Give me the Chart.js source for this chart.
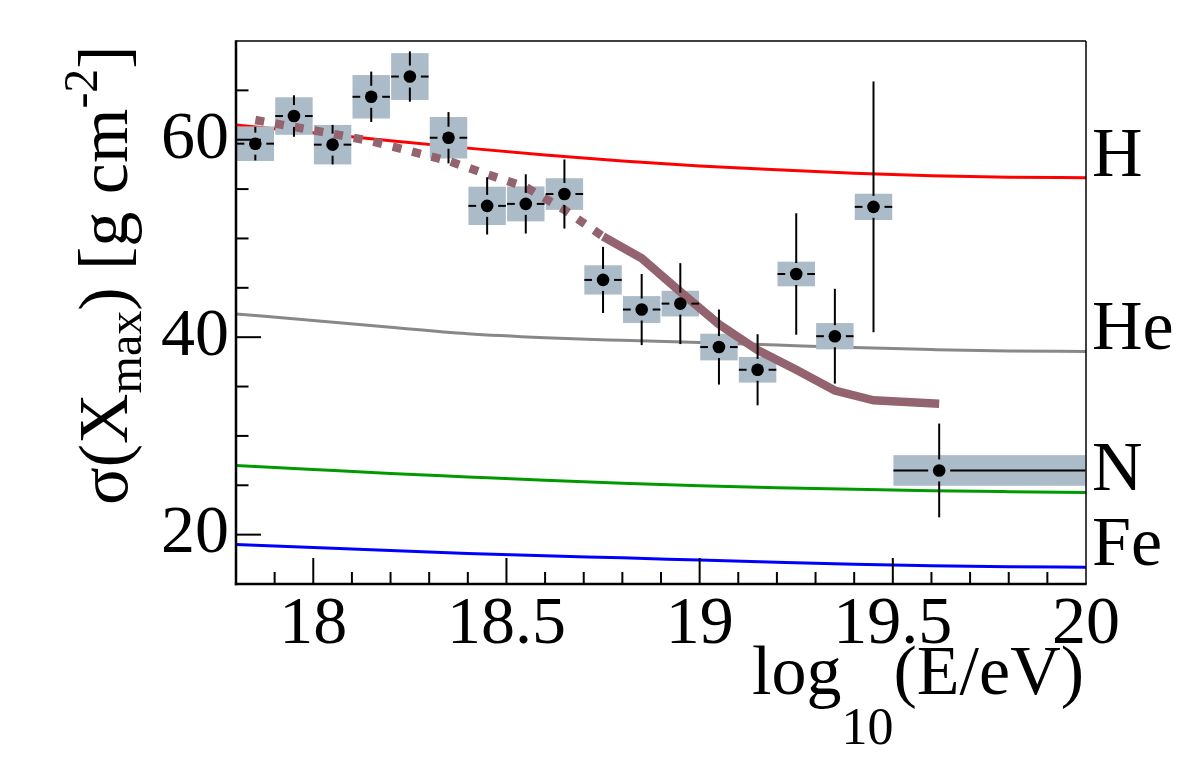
<!DOCTYPE html>
<html><head><meta charset="utf-8">
<script src="https://cdn.jsdelivr.net/npm/chart.js@4/dist/chart.umd.min.js"></script>
<style>html,body{margin:0;padding:0;background:#fff;}canvas{display:block;}</style>
</head><body>
<canvas id="c" width="1182" height="759"></canvas>
<script>
// ---- data ----
const binCenters = [17.85, 17.95, 18.05, 18.15, 18.25, 18.35, 18.45, 18.55, 18.65, 18.75, 18.85, 18.95, 19.05, 19.15, 19.25, 19.35, 19.45, 19.62];
const binLow     = [17.8, 17.9, 18.0, 18.1, 18.2, 18.3, 18.4, 18.5, 18.6, 18.7, 18.8, 18.9, 19.0, 19.1, 19.2, 19.3, 19.4, 19.5];
const binHigh    = [17.9, 18.0, 18.1, 18.2, 18.3, 18.4, 18.5, 18.6, 18.7, 18.8, 18.9, 19.0, 19.1, 19.2, 19.3, 19.4, 19.5, 20.0];
const sigmaXmax  = [59.6, 62.4, 59.5, 64.35, 66.4, 60.2, 53.3, 53.5, 54.5, 45.8, 42.8, 43.4, 39.0, 36.7, 46.4, 40.1, 53.2, 26.5];
const statErr    = [1.7, 2.1, 2.0, 2.55, 2.55, 2.6, 2.9, 3.0, 3.5, 3.35, 3.6, 4.1, 3.8, 3.6, 6.15, 4.8, 12.7, 4.75];
const sysErr     = [1.75, 1.9, 2.0, 2.2, 2.37, 2.1, 1.94, 1.77, 1.6, 1.48, 1.36, 1.3, 1.35, 1.3, 1.25, 1.33, 1.33, 1.55];

const compX  = [17.8, 18.0, 18.2, 18.4, 18.6, 18.8, 19.0, 19.2, 19.4, 19.6, 19.8, 20.0];
const compH  = [61.5, 60.7, 59.9, 59.15, 58.45, 57.85, 57.35, 56.95, 56.6, 56.35, 56.2, 56.15];
const compHe = [42.36, 41.7, 41.0, 40.35, 39.95, 39.68, 39.45, 39.2, 38.95, 38.75, 38.6, 38.56];
const compN  = [27.0, 26.6, 26.2, 25.85, 25.5, 25.2, 24.95, 24.75, 24.6, 24.45, 24.35, 24.27];
const compFe = [19.0, 18.7, 18.4, 18.1, 17.85, 17.65, 17.42, 17.2, 17.0, 16.85, 16.75, 16.7];
const compLabels = ['H', 'He', 'N', 'Fe'];

const modelDottedX = [17.85, 17.95, 18.05, 18.15, 18.25, 18.35, 18.45, 18.55, 18.65, 18.75];
const modelDottedY = [62.0, 61.3, 60.6, 59.85, 58.85, 57.85, 56.5, 55.2, 52.9, 50.2];
const modelSolidX  = [18.75, 18.85, 18.95, 19.05, 19.15, 19.25, 19.35, 19.45, 19.62];
const modelSolidY  = [50.2, 48.0, 44.6, 41.3, 38.7, 36.7, 34.6, 33.6, 33.25];

const xTickValues = [18, 18.5, 19, 19.5, 20];
const xTickLabels = ['18', '18.5', '19', '19.5', '20'];
const yTickValues = [20, 40, 60];
const yTickLabels = ['20', '40', '60'];

// ---- styling ----
const SERIF = '"Liberation Serif", "DejaVu Serif", serif';
const BOX_COLOR = '#abbbc8';
const MODEL_COLOR = '#93646f';
const compColors = ['#ff0000', '#888888', '#009a00', '#0000ff'];

function pts(xs, ys) { return xs.map((x, i) => ({ x: x, y: ys[i] })); }

const compSeries = [compH, compHe, compN, compFe];
const datasets = compSeries.map((s, i) => ({
  role: 'comp', label: compLabels[i], data: pts(compX, s),
  showLine: true, borderColor: compColors[i], borderWidth: 3, pointRadius: 0,
  cubicInterpolationMode: 'monotone', order: 3
}));
datasets.push({
  role: 'model', label: 'model (extrapolated)', data: pts(modelDottedX, modelDottedY),
  showLine: true, borderColor: MODEL_COLOR, borderWidth: 8.5, borderDash: [9, 11],
  borderCapStyle: 'butt', pointRadius: 0, tension: 0, order: 2
});
datasets.push({
  role: 'model', label: 'model', data: pts(modelSolidX, modelSolidY),
  showLine: true, borderColor: MODEL_COLOR, borderWidth: 8.5,
  borderCapStyle: 'butt', pointRadius: 0, tension: 0, order: 2
});
datasets.push({
  role: 'data', label: 'data', data: pts(binCenters, sigmaXmax),
  showLine: false, pointRadius: 6.3, pointBackgroundColor: '#000', pointBorderColor: '#000',
  pointBorderWidth: 0, order: 1
});

function drawBoxes(chart) {
  const ctx = chart.ctx, xs = chart.scales.x, ys = chart.scales.y;
  ctx.save();
  ctx.fillStyle = BOX_COLOR;
  for (let i = 0; i < binCenters.length; i++) {
    const x0 = xs.getPixelForValue(binLow[i]), x1 = xs.getPixelForValue(binHigh[i]);
    const y0 = ys.getPixelForValue(sigmaXmax[i] + sysErr[i]), y1 = ys.getPixelForValue(sigmaXmax[i] - sysErr[i]);
    ctx.fillRect(x0 + 0.6, y0, x1 - x0 - 1.2, y1 - y0);
  }
  ctx.restore();
}

function line(ctx, a, b, c, d) { ctx.beginPath(); ctx.moveTo(a, b); ctx.lineTo(c, d); ctx.stroke(); }

function drawErrors(chart) {
  const ctx = chart.ctx, xs = chart.scales.x, ys = chart.scales.y;
  const gap = 11;
  ctx.save();
  ctx.strokeStyle = '#000'; ctx.lineWidth = 2;
  for (let i = 0; i < binCenters.length; i++) {
    const px = xs.getPixelForValue(binCenters[i]), py = ys.getPixelForValue(sigmaXmax[i]);
    const yt = ys.getPixelForValue(sigmaXmax[i] + statErr[i]), yb = ys.getPixelForValue(sigmaXmax[i] - statErr[i]);
    const xl = xs.getPixelForValue(binLow[i]), xr = xs.getPixelForValue(binHigh[i]);
    if (yt < py - gap) line(ctx, px, yt, px, py - gap);
    if (yb > py + gap) line(ctx, px, py + gap, px, yb);
    if (xl < px - gap) line(ctx, xl + 0.6, py, px - gap, py);
    if (xr > px + gap) line(ctx, px + gap, py, xr - 0.6, py);
  }
  ctx.restore();
}

function richText(ctx, segs, x, y, align) {
  let total = 0;
  segs.forEach(s => { ctx.font = s.size + 'px ' + SERIF; s.w = ctx.measureText(s.t).width; total += s.w; });
  let cx = align === 'right' ? x - total : x;
  ctx.textBaseline = 'alphabetic'; ctx.textAlign = 'left';
  segs.forEach(s => { ctx.font = s.size + 'px ' + SERIF; ctx.fillText(s.t, cx, y + s.dy); cx += s.w; });
}

const overlay = {
  id: 'overlay',
  beforeDatasetsDraw(chart) { chart.$boxesDone = false; },
  beforeDatasetDraw(chart, args) {
    const ds = chart.data.datasets[args.index];
    if (ds.role === 'model' && !chart.$boxesDone) { drawBoxes(chart); chart.$boxesDone = true; }
    if (ds.role === 'data') drawErrors(chart);
  },
  afterDraw(chart) {
    const ctx = chart.ctx, xs = chart.scales.x, ys = chart.scales.y, a = chart.chartArea;
    ctx.save();
    // frame
    ctx.strokeStyle = '#000';
    ctx.lineWidth = 1.5;
    line(ctx, a.left, a.top, a.right, a.top);
    line(ctx, a.right, a.top, a.right, a.bottom);
    ctx.lineWidth = 2.5;
    line(ctx, a.left, a.top - 0.7, a.left, a.bottom + 1.2);
    line(ctx, a.left - 1.2, a.bottom, a.right + 0.7, a.bottom);
    // ticks (inward)
    ctx.lineWidth = 2;
    for (let v = ys.min; v <= ys.max + 1e-9; v += 5) {
      const p = ys.getPixelForValue(v);
      if (p < a.top + 2 || p > a.bottom - 2) continue;
      const major = yTickValues.some(t => Math.abs(t - v) < 1e-6);
      line(ctx, a.left, p, a.left + (major ? 25 : 12.5), p);
    }
    for (let k = 0; k <= 22; k++) {
      const v = xs.min + k * 0.1;
      const p = xs.getPixelForValue(v);
      if (p < a.left + 2 || p > a.right - 2) continue;
      const major = xTickValues.some(t => Math.abs(t - v) < 1e-6);
      line(ctx, p, a.bottom, p, a.bottom - (major ? 26 : 12));
    }
    // composition labels at line ends
    ctx.fillStyle = '#000';
    ctx.font = '70px ' + SERIF; ctx.textAlign = 'left'; ctx.textBaseline = 'alphabetic';
    compSeries.forEach((s, i) => {
      ctx.fillText(compLabels[i], a.right + 6, ys.getPixelForValue(s[s.length - 1]) - 2);
    });
    // x title
    richText(ctx, [
      { t: 'log', size: 70, dy: 0 },
      { t: '10', size: 52, dy: 50 },
      { t: '(E/eV)', size: 70, dy: 0 }
    ], 1084, 694, 'right');
    // y title
    ctx.translate(127, 505);
    ctx.rotate(-Math.PI / 2);
    richText(ctx, [
      { t: 'σ(X', size: 70, dy: 0 },
      { t: 'max', size: 48, dy: 14 },
      { t: ') [g cm', size: 70, dy: 0 },
      { t: '-2', size: 48, dy: -30 },
      { t: ']', size: 70, dy: 0 }
    ], 0, 0, 'left');
    ctx.restore();
  }
};

new Chart(document.getElementById('c'), {
  type: 'scatter',
  data: { datasets: datasets },
  plugins: [overlay],
  options: {
    responsive: false, animation: false, devicePixelRatio: 1,
    layout: { padding: { top: 38, right: 96, left: 0, bottom: 0 } },
    plugins: { legend: { display: false }, tooltip: { enabled: false } },
    scales: {
      x: {
        type: 'linear', min: 17.8, max: 20,
        grid: { display: false, drawTicks: false }, border: { display: false },
        afterFit(s) { s.height = 175; },
        afterBuildTicks(s) { s.ticks = xTickValues.map(v => ({ value: v })); },
        ticks: {
          autoSkip: false, maxRotation: 0, padding: 7, color: '#000',
          font: { family: SERIF, size: 68, lineHeight: 1 },
          callback(v) { const i = xTickValues.indexOf(v); return i >= 0 ? xTickLabels[i] : ''; }
        }
      },
      y: {
        type: 'linear', min: 15, max: 70,
        grid: { display: false, drawTicks: false }, border: { display: false },
        afterFit(s) { s.width = 236; },
        afterBuildTicks(s) { s.ticks = yTickValues.map(v => ({ value: v })); },
        ticks: {
          autoSkip: false, padding: 7, color: '#000',
          font: { family: SERIF, size: 68, lineHeight: 1 },
          callback(v) { const i = yTickValues.indexOf(v); return i >= 0 ? yTickLabels[i] : ''; }
        }
      }
    }
  }
});
</script>
</body></html>
